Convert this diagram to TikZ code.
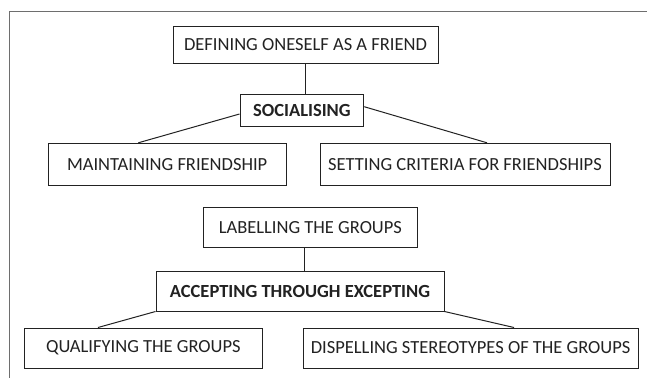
\documentclass[tikz,border=0pt]{standalone}
\usepackage{fontspec}
\setmainfont{Carlito}
\usetikzlibrary{calc}
\definecolor{inkc}{HTML}{222222}
\definecolor{framec}{HTML}{6E6E6E}
\begin{document}
\begin{tikzpicture}[x=1pt,y=-1pt,
  box/.style={draw=inkc, line width=1pt, inner sep=0pt, text=inkc,
    font=\fontsize{18.5}{20}\selectfont, anchor=center},
  bbox/.style={box, font=\fontsize{18.5}{20}\selectfont\bfseries},
  link/.style={draw=inkc, line width=1pt}]
\useasboundingbox (0,0) rectangle (647,378);
\fill[white] (0,0) rectangle (647,378);
\draw[framec, line width=1.2pt] (647,11.7) -- (9.3,11.7) -- (9.3,378);

\node[box, minimum width=265pt, minimum height=37.3pt] (def) at (305.5,44.65) {DEFINING ONESELF AS A FRIEND};
\node[bbox, minimum width=123.7pt, minimum height=32.4pt] (soc) at (301.85,110.5) {SOCIALISING};
\node[box, minimum width=237.7pt, minimum height=42.4pt] (mai) at (167.15,164.5) {MAINTAINING FRIENDSHIP};
\node[box, minimum width=290pt, minimum height=42.4pt] (set) at (465,164.5) {SETTING CRITERIA FOR FRIENDSHIPS};
\node[box, minimum width=214.4pt, minimum height=39.3pt] (lab) at (310.4,227.35) {LABELLING THE GROUPS};
\node[bbox, minimum width=288pt, minimum height=40pt] (acc) at (300,291) {ACCEPTING THROUGH EXCEPTING};
\node[box, minimum width=238pt, minimum height=40pt] (qua) at (143.3,348) {QUALIFYING THE GROUPS};
\node[box, minimum width=334.7pt, minimum height=40pt] (dis) at (470.65,348) {DISPELLING STEREOTYPES OF THE GROUPS};

\coordinate (labfoot) at ($(lab.south)+(-6.1,0)$);
\draw[link] (def.south) -- (def.south |- soc.north);
\draw[link] ($(soc.west)+(0,3.5)$) -- ($(mai.north)+(-28.85,0)$);
\draw[link] ($(soc.east)+(0,-3.8)$) -- ($(set.north)+(22,0)$);
\draw[link] (labfoot) -- (labfoot |- acc.north);
\draw[link] (acc.south west) -- ($(qua.north)+(-45.3,0)$);
\draw[link] (acc.south east) -- ($(dis.north)+(43.35,0)$);
\end{tikzpicture}
\end{document}
